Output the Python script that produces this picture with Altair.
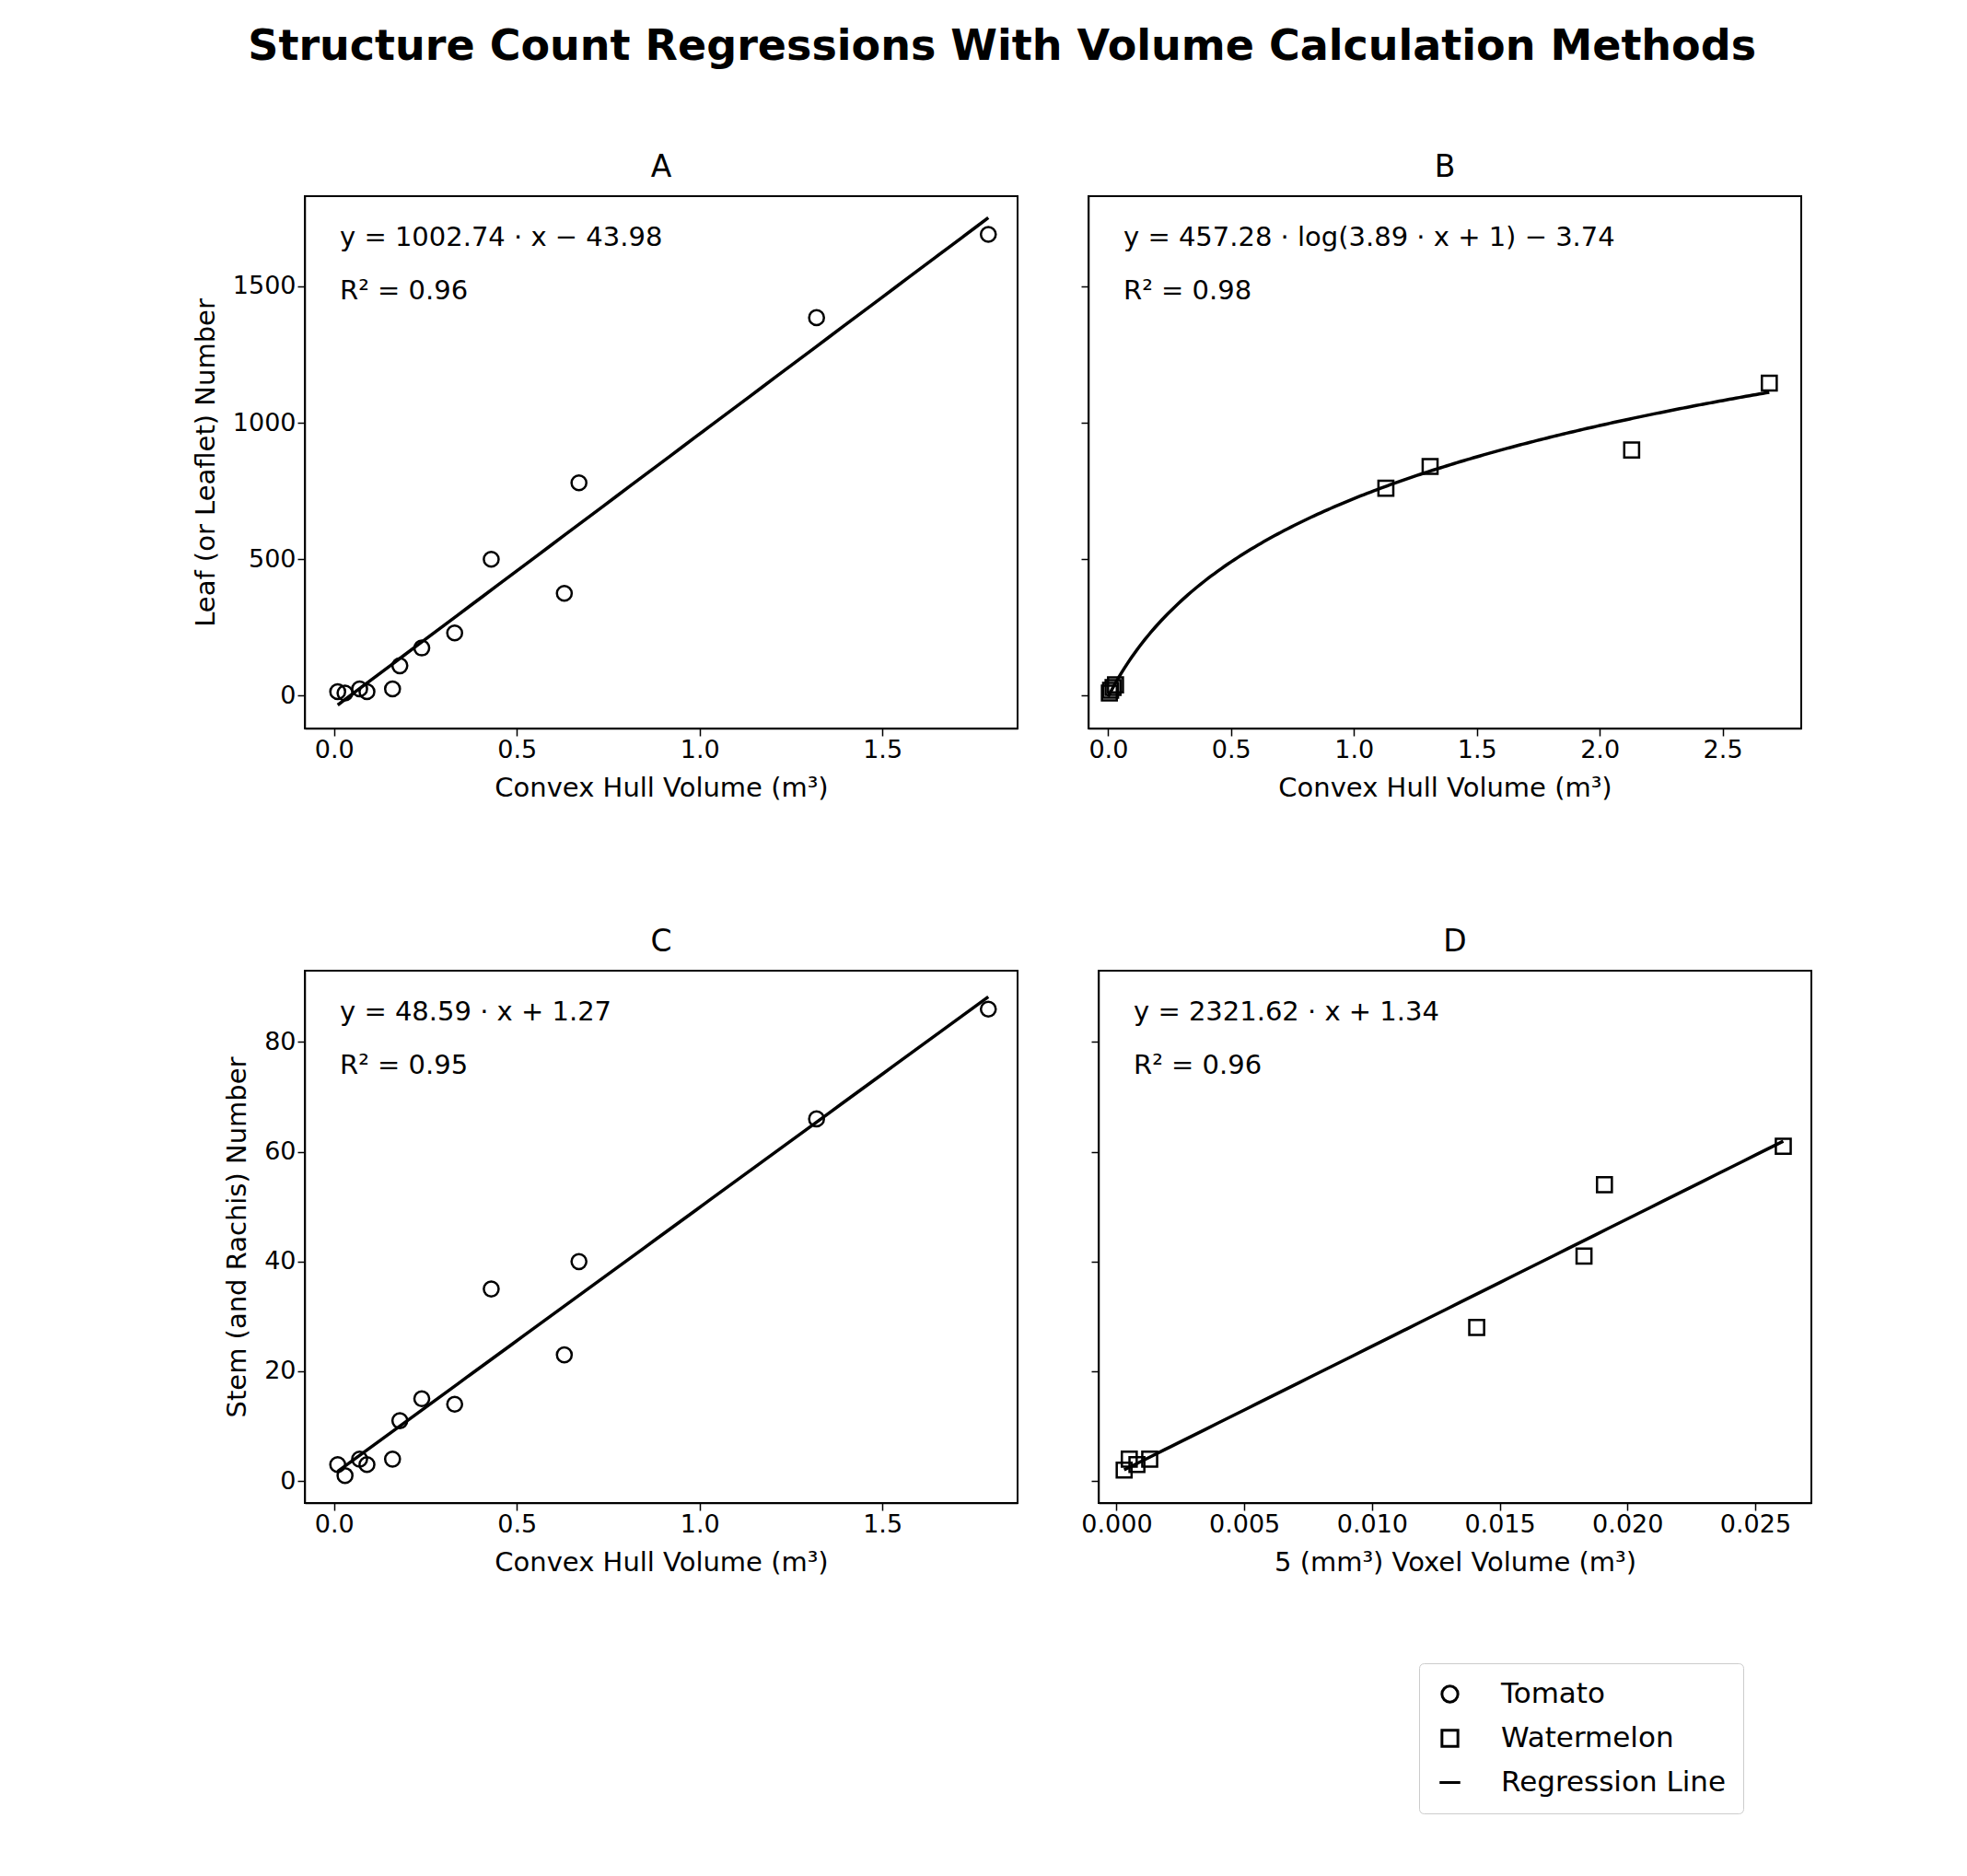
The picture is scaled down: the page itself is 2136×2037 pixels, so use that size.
import altair as alt
import numpy as np
import pandas as pd

# Tomato (convex hull volume, m^3)
tomato_x = [0.01, 0.03, 0.07, 0.09, 0.16, 0.18, 0.24, 0.33, 0.43, 0.63, 0.67, 1.32, 1.79]
tomato_leaf = [15, 10, 25, 15, 25, 110, 175, 230, 500, 375, 780, 1385, 1690]
tomato_stem = [3, 1, 4, 3, 4, 11, 15, 14, 35, 23, 40, 66, 86]

# Watermelon
melon_hull = [0.005, 0.01, 0.02, 0.03, 1.13, 1.31, 2.13, 2.69]
melon_leaf = [10, 20, 30, 40, 760, 840, 900, 1145]
melon_voxel = [0.0003, 0.0005, 0.0008, 0.0013, 0.0141, 0.0183, 0.0191, 0.0261]
melon_stem = [2, 4, 3, 4, 28, 41, 54, 61]

W, H = 774, 578
FONT = "DejaVu Sans"
SHAPES = alt.Scale(domain=["Tomato", "Watermelon", "Regression Line"],
                   range=["circle", "square", "M-1.3,0L1.3,0"])


def panel(xs, ys, species, fit_x, fit_y, eq, r2, title, xdom, ydom, xtitle,
          ytitle, xticks, yticks, show_y, xfmt):
    pts = pd.DataFrame({"x": xs, "y": ys, "species": species})
    fit = pd.DataFrame({"x": fit_x, "y": fit_y})
    xe = alt.X("x:Q", scale=alt.Scale(domain=xdom, nice=False, zero=False),
               axis=alt.Axis(values=xticks, format=xfmt, title=xtitle))
    ye = alt.Y("y:Q", scale=alt.Scale(domain=ydom, nice=False, zero=False),
               axis=alt.Axis(values=yticks, labels=show_y, format="d",
                             title=ytitle if show_y else None))
    p = alt.Chart(pts).mark_point(filled=False, size=260, strokeWidth=2.5,
                                  color="black", opacity=1).encode(
        x=xe, y=ye,
        shape=alt.Shape("species:N", scale=SHAPES,
                        legend=alt.Legend(title=None)))
    line = alt.Chart(fit).mark_line(color="black", strokeWidth=3.5).encode(
        x="x:Q", y="y:Q")
    layers = [p, line]
    for t, yy in [(eq, 45), (r2, 103)]:
        layers.append(alt.Chart(pd.DataFrame({"t": [t]})).mark_text(
            align="left", baseline="middle", fontSize=29, font=FONT).encode(
            x=alt.value(38), y=alt.value(yy), text="t:N"))
    return alt.layer(*layers).properties(
        width=W, height=H,
        title=alt.Title(title, fontSize=33, fontWeight="normal", font=FONT, offset=14))


xa = np.linspace(min(tomato_x), max(tomato_x), 50)
xb = np.linspace(0, max(melon_hull), 200)
xd = np.linspace(min(melon_voxel), max(melon_voxel), 50)
hull_title = "Convex Hull Volume (m³)"

a = panel(tomato_x, tomato_leaf, "Tomato", xa, 1002.74 * xa - 43.98,
          "y = 1002.74 · x − 43.98", "R² = 0.96", "A", [-0.08, 1.87], [-120, 1830],
          hull_title, "Leaf (or Leaflet) Number", [0, 0.5, 1, 1.5], [0, 500, 1000, 1500], True, ".1f")
b = panel(melon_hull, melon_leaf, "Watermelon", xb, 457.28 * np.log(3.89 * xb + 1) - 3.74,
          "y = 457.28 · log(3.89 · x + 1) − 3.74", "R² = 0.98", "B", [-0.08, 2.82], [-120, 1830],
          hull_title, "", [0, 0.5, 1, 1.5, 2, 2.5], [0, 500, 1000, 1500], False, ".1f")
c = panel(tomato_x, tomato_stem, "Tomato", xa, 48.59 * xa + 1.27,
          "y = 48.59 · x + 1.27", "R² = 0.95", "C", [-0.08, 1.87], [-4, 93],
          hull_title, "Stem (and Rachis) Number", [0, 0.5, 1, 1.5], [0, 20, 40, 60, 80], True, ".1f")
d = panel(melon_voxel, melon_stem, "Watermelon", xd, 2321.62 * xd + 1.34,
          "y = 2321.62 · x + 1.34", "R² = 0.96", "D", [-0.0007, 0.0272], [-4, 93],
          "5 (mm³) Voxel Volume (m³)", "", [0, 0.005, 0.01, 0.015, 0.02, 0.025],
          [0, 20, 40, 60, 80], False, ".3f")

chart = alt.vconcat(
    alt.hconcat(a, b, spacing=66),
    alt.hconcat(c, d, spacing=66),
    spacing=135,
).resolve_scale(shape="shared").properties(
    title=alt.Title("Structure Count Regressions With Volume Calculation Methods",
                    fontSize=46, font=FONT, fontWeight="bold", offset=90,
                    anchor="middle"),
    padding={"left": 200, "top": 20, "right": 20, "bottom": 60},
).configure_axis(
    labelFont=FONT, titleFont=FONT, labelFontSize=27, titleFontSize=29,
    titleFontWeight="normal", domainColor="black", tickColor="black",
    labelColor="black", titleColor="black", grid=False, tickSize=8,
    domainWidth=1.5, tickWidth=1.5, titlePadding=14,
).configure_view(stroke="black", strokeWidth=2).configure_legend(
    orient="none", legendX=1210, legendY=1593, labelFont=FONT, labelFontSize=31,
    symbolSize=300, symbolStrokeColor="black", symbolFillColor="transparent",
    symbolStrokeWidth=3, strokeColor="#cccccc", padding=18, rowPadding=16,
    cornerRadius=5, fillColor="white", labelOffset=40, labelLimit=0,
)

chart.save("out.html", embed_options={"renderer": "svg", "actions": False})
